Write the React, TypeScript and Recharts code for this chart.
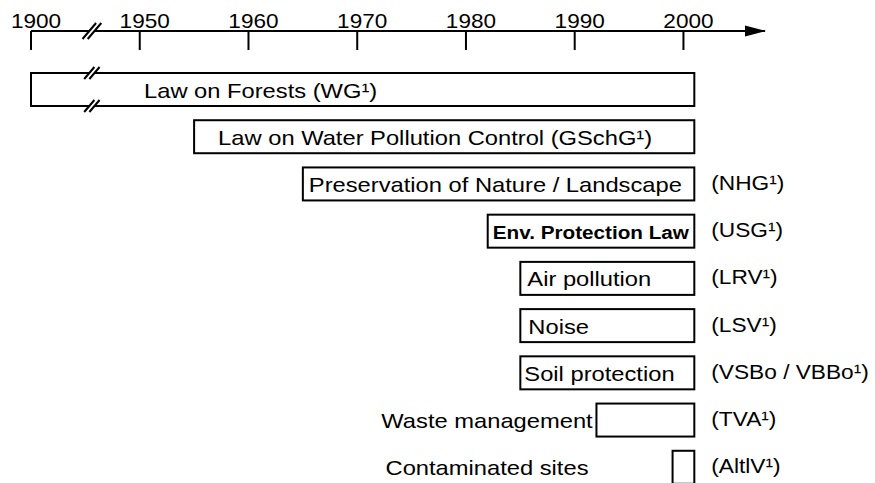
import { BarChart, Bar, XAxis, YAxis } from 'recharts'

const tickYears = [1900, 1950, 1960, 1970, 1980, 1990, 2000]

const lawNames = [
  'Law on Forests (WG¹)',
  'Law on Water Pollution Control (GSchG¹)',
  'Preservation of Nature / Landscape',
  'Env. Protection Law',
  'Air pollution',
  'Noise',
  'Soil protection',
  'Waste management',
  'Contaminated sites',
]
const lawCodes = ['', '', '(NHG¹)', '(USG¹)', '(LRV¹)', '(LSV¹)', '(VSBo / VBBo¹)', '(TVA¹)', '(AltlV¹)']
const startYears = [1900, 1955, 1965, 1982, 1985, 1985, 1985, 1992, 1999]
const endYear = 2001
const breakYear = 1928

// the axis is cut between 1900 and 1950, that half century only gets one decade of room
const toAxis = (year: number) => (year >= 1950 ? year : 1940 + (year - 1900) / 5)
const fromAxis = (v: number) => (v >= 1950 ? v : 1900 + (v - 1940) * 5)
const xDomain = [1940, 2007.5]

const rows = lawNames.map((name, i) => ({
  name,
  code: lawCodes[i],
  range: [toAxis(startYears[i]), toAxis(endYear)],
}))

// text offset from the left edge of the box, null = label stands left of the box
const labelPad = [113, 24, 6, 5, 7, 8, 4, null, null]
const outsideLabelX = 487

const font = "'Liberation Sans', Arial, Helvetica, sans-serif"

function BreakMark({ cx, cy, h }: { cx: number; cy: number; h: number }) {
  const dx = h * 0.85
  const g = 2.6
  return (
    <g>
      <path
        d={`M${cx - g - dx},${cy + h} L${cx - g + dx},${cy - h} L${cx + g + dx},${cy - h} L${cx + g - dx},${cy + h} Z`}
        fill="#fff"
      />
      <line x1={cx - g - dx} y1={cy + h} x2={cx - g + dx} y2={cy - h} stroke="#000" strokeWidth={2} />
      <line x1={cx + g - dx} y1={cy + h} x2={cx + g + dx} y2={cy - h} stroke="#000" strokeWidth={2} />
    </g>
  )
}

function AxisTick(props: any) {
  const { x, y, payload, index } = props
  const w = props.width ?? 734
  const px = w / (xDomain[1] - xDomain[0])
  return (
    <g>
      <line x1={x} x2={x} y1={y} y2={y + 19} stroke="#000" strokeWidth={2} />
      <text
        transform={`translate(${x + 5},${y - 3}) scale(1.13,1)`}
        textAnchor="middle"
        fontSize={20}
        fontFamily={font}
        fill="#000"
      >
        {Math.round(fromAxis(payload.value))}
      </text>
      {index === 0 && (
        <g>
          <path d={`M${x + w - 20},${y - 5.5} L${x + w + 1},${y} L${x + w - 20},${y + 5.5} Z`} fill="#000" />
          <BreakMark cx={x + (toAxis(breakYear) - payload.value) * px} cy={y} h={8} />
        </g>
      )}
    </g>
  )
}

function LawBox(props: any) {
  const { x, y, width, height, payload, index } = props
  const cy = y + height / 2
  const pad = labelPad[index]
  const [a, b] = payload.range
  const brk = toAxis(breakYear)
  const bx = x + ((brk - a) * width) / (b - a)
  const bold = index === 3
  return (
    <g>
      <rect x={x} y={y} width={width} height={height} fill="#fff" stroke="#000" strokeWidth={2} />
      {pad != null ? (
        <text
          transform={`translate(${x + pad},${cy + 8}) scale(${bold ? 1.09 : 1.13},1)`}
          fontSize={bold ? 19 : 21}
          fontWeight={bold ? 'bold' : 'normal'}
          fontFamily={font}
          fill="#000"
        >
          {payload.name}
        </text>
      ) : (
        <text
          transform={`translate(${outsideLabelX},${cy + 8}) scale(1.13,1)`}
          textAnchor="middle"
          fontSize={21}
          fontFamily={font}
          fill="#000"
        >
          {payload.name}
        </text>
      )}
      {payload.code && (
        <text
          transform={`translate(${x + width + 17},${cy + 6}) scale(1.08,1)`}
          fontSize={21}
          fontFamily={font}
          fill="#000"
        >
          {payload.code}
        </text>
      )}
      {a < brk && (
        <g>
          <BreakMark cx={bx} cy={y} h={6} />
          <BreakMark cx={bx} cy={y + height} h={6} />
        </g>
      )}
    </g>
  )
}

export default function App() {
  return (
    <div style={{ position: 'absolute', left: 0, top: 0, width: 875, height: 483, overflow: 'hidden', background: '#fff' }}>
      <BarChart
        width={875}
        height={500}
        layout="vertical"
        data={rows}
        margin={{ top: 0, right: 110, bottom: 9, left: 31 }}
        barCategoryGap={0}
      >
        <XAxis
          type="number"
          orientation="top"
          domain={xDomain}
          ticks={tickYears.map(toAxis)}
          interval={0}
          height={31}
          tickSize={0}
          tickMargin={0}
          tickLine={false}
          axisLine={{ stroke: '#000', strokeWidth: 2 }}
          tick={<AxisTick />}
        />
        <YAxis type="category" dataKey="name" hide padding={{ top: 35, bottom: 0 }} />
        <Bar dataKey="range" barSize={33} shape={<LawBox />} isAnimationActive={false} />
      </BarChart>
    </div>
  )
}
